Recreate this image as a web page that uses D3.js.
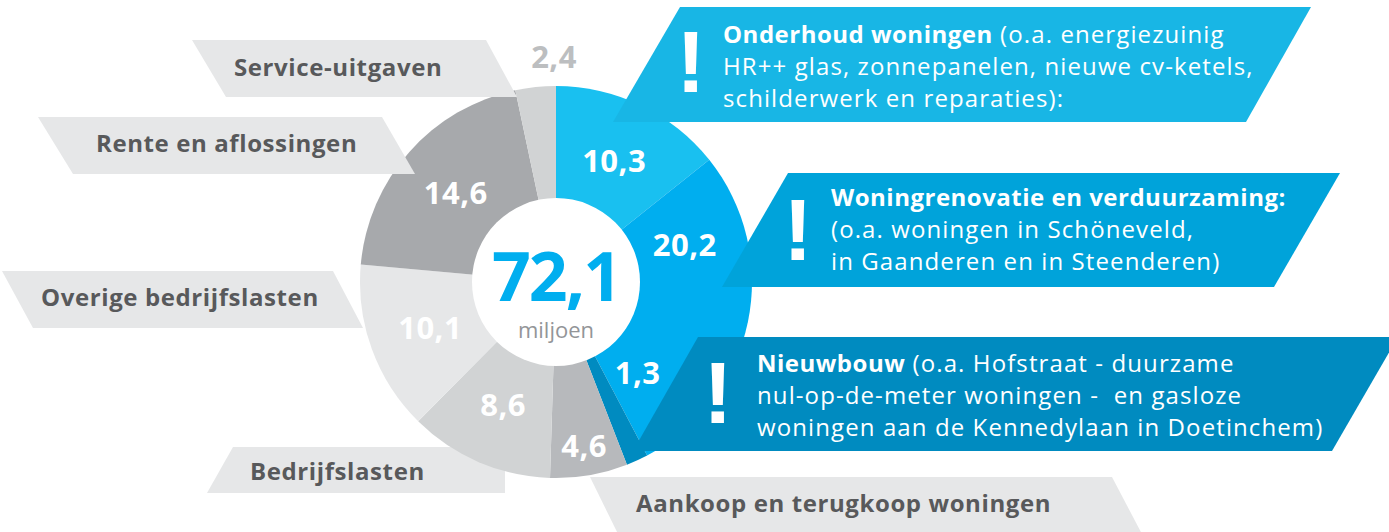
<!DOCTYPE html>
<html lang="nl">

<head>
    <meta charset="UTF-8">
    <title>Uitgaven 72,1 miljoen</title>
    <script type='text/javascript' src='https://d3js.org/d3.v7.min.js'></script>
    <style>
        body { margin: 0; background: #fff; }
        svg text { font-family: "Open Sans", Lato, sans-serif; white-space: pre; }
    </style>
</head>

<body>
    <script>
        // slices, clockwise from 12 o'clock
        const categories = ["Onderhoud woningen", "Woningrenovatie en verduurzaming:", "Nieuwbouw",
            "Aankoop en terugkoop woningen", "Bedrijfslasten", "Overige bedrijfslasten",
            "Rente en aflossingen", "Service-uitgaven"];
        const values = [10.3, 20.2, 1.3, 4.6, 8.6, 10.1, 14.6, 2.4];
        const totalLabel = "72,1";
        const unitLabel = "miljoen";

        // extra lines for the three blue callouts (first line follows the bold title)
        const blueDetails = [
            ["(o.a. energiezuinig", "HR++ glas, zonnepanelen, nieuwe cv-ketels,", "schilderwerk en reparaties):"],
            ["", "(o.a. woningen in Schöneveld,", "in Gaanderen en in Steenderen)"],
            ["(o.a. Hofstraat - duurzame", "nul-op-de-meter woningen -  en gasloze", "woningen aan de Kennedylaan in Doetinchem)"]
        ];

        const W = 1389, H = 532;
        const cx = 556, cy = 282, R = 196, r0 = 84;

        const sliceColors = ["#19c0f0", "#00aeef", "#008bc0", "#b7b9bc", "#d1d3d4", "#e6e7e8", "#a7a9ac", "#d1d3d4"];
        const blueFill = ["#18b6e5", "#00a3da", "#008bc0"];

        const svg = d3.select("body").append("svg")
            .attr("width", W).attr("height", H);

        const fmt = d => d3.format(".1f")(d).replace(".", ",");

        // gray label banners: [TL, TR, BR, BL], text x, baseline
        const grayShapes = {
            3: { pts: [[590, 477], [1112, 477], [1143, 536], [619, 536]], tx: 636, ty: 512 },
            4: { pts: [[233, 447], [505, 447], [505, 493], [207, 493]], tx: 250, ty: 480 },
            5: { pts: [[2, 271], [333, 271], [363, 328], [33, 328]], tx: 41, ty: 306 },
            6: { pts: [[38, 117], [382, 117], [415, 174], [73, 174]], tx: 96, ty: 152 },
            7: { pts: [[192, 40], [486, 40], [517, 97], [226, 97]], tx: 234, ty: 76 }
        };

        function grayBanner(g, i) {
            const s = grayShapes[i];
            g.append("polygon")
                .attr("points", s.pts.map(p => p.join(",")).join(" "))
                .attr("fill", "#e6e7e8");
            g.append("text")
                .attr("x", s.tx).attr("y", s.ty)
                .attr("font-size", 24).attr("font-weight", 700)
                .attr("letter-spacing", 0.6)
                .attr("fill", "#58595b")
                .text(categories[i]);
        }

        const under = svg.append("g");
        [3, 4].forEach(i => grayBanner(under, i));

        // donut
        const pie = d3.pie().sort(null).value(d => d);
        const arcs = pie(values);
        const arc = d3.arc().innerRadius(0).outerRadius(R);
        const pieG = svg.append("g").attr("transform", `translate(${cx},${cy})`);
        pieG.selectAll("path").data(arcs).enter().append("path")
            .attr("d", arc)
            .attr("fill", (d, i) => sliceColors[i]);
        pieG.append("circle").attr("r", r0).attr("fill", "#fff");
        pieG.append("text")
            .attr("text-anchor", "middle").attr("y", 19)
            .attr("font-size", 68).attr("font-weight", 700)
            .attr("fill", "#00aeef").attr("letter-spacing", -2)
            .text(totalLabel);
        pieG.append("text")
            .attr("text-anchor", "middle").attr("y", 56)
            .attr("font-size", 22).attr("fill", "#939598")
            .text(unitLabel);

        const over = svg.append("g");
        [5, 6, 7].forEach(i => grayBanner(over, i));

        // blue callouts
        const blueShapes = [
            { pts: [[680, 7], [1311, 7], [1246, 122], [613, 122]], ex: 691, ey: 92, tx: 723, ty: 43 },
            { pts: [[788, 173], [1340, 173], [1274, 287], [722, 287]], ex: 798, ey: 260, tx: 831, ty: 206 },
            { pts: [[698, 337], [1398, 337], [1332, 451], [633, 451]], ex: 718, ey: 423, tx: 757, ty: 372 }
        ];
        blueShapes.forEach((s, i) => {
            const g = svg.append("g");
            g.append("polygon")
                .attr("points", s.pts.map(p => p.join(",")).join(" "))
                .attr("fill", blueFill[i]);
            g.append("text")
                .attr("x", s.ex).attr("y", s.ey)
                .attr("text-anchor", "middle")
                .style("font-family", "'Liberation Sans', sans-serif")
                .attr("font-size", 88).attr("font-weight", 700)
                .attr("fill", "#fff")
                .text("!");
            const t = g.append("text").attr("fill", "#fff").attr("font-size", 24);
            blueDetails[i].forEach((line, k) => {
                const ts = t.append("tspan").attr("x", s.tx).attr("y", s.ty + k * 32);
                if (k === 0) {
                    ts.append("tspan").attr("font-weight", 700).attr("letter-spacing", 0.5).text(categories[i]);
                    if (line) ts.append("tspan").attr("font-weight", 400).attr("letter-spacing", 1.1).text(" " + line);
                } else {
                    ts.attr("font-weight", 400).attr("letter-spacing", 1.1).text(line);
                }
            });
        });

        // value labels on the slices
        const labelPlace = { 1: { a: 74 }, 2: { a: 138, r: 122 }, 3: { r: 166 }, 7: { a: 359.5, r: 225 } };
        const labels = svg.append("g").attr("transform", `translate(${cx},${cy})`);
        labels.selectAll("text").data(arcs).enter().append("text")
            .attr("transform", (d, i) => {
                const p = labelPlace[i] || {};
                const a = (p.a !== undefined ? p.a : (d.startAngle + d.endAngle) / 2 * 180 / Math.PI) * Math.PI / 180;
                const rr = p.r || 134;
                return `translate(${rr * Math.sin(a)},${-rr * Math.cos(a)})`;
            })
            .attr("text-anchor", "middle").attr("dy", "0.36em")
            .attr("font-size", 31).attr("font-weight", 700)
            .attr("letter-spacing", 0.5)
            .attr("fill", (d, i) => i === 7 ? "#bcbec0" : "#fff")
            .text(d => fmt(d.data));
    </script>
</body>

</html>
